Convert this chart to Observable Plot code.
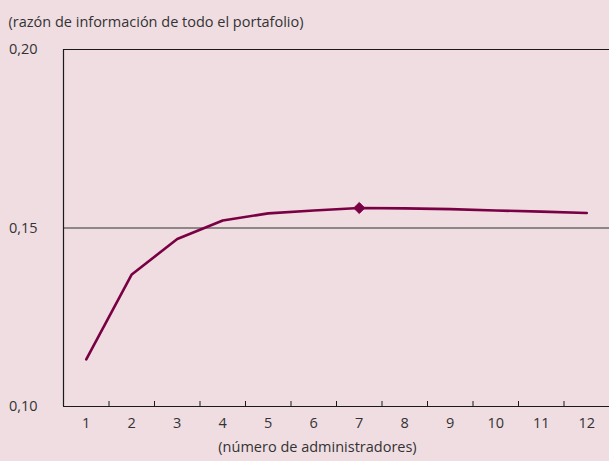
<!DOCTYPE html>
<html>
<head>
<meta charset="utf-8">
<script src="https://cdn.jsdelivr.net/npm/d3@7"></script>
<script src="https://cdn.jsdelivr.net/npm/@observablehq/plot@0.6"></script>
<style>
  html, body { margin: 0; padding: 0; background: #efdde2; }
  #chart svg { display: block; }
</style>
</head>
<body>
<div id="chart"></div>
<script>
const managers = [1, 2, 3, 4, 5, 6, 7, 8, 9, 10, 11, 12];
const infoRatio = [0.1132, 0.1370, 0.1469, 0.1521, 0.1541, 0.1549, 0.1556, 0.1555, 0.1553, 0.1549, 0.1546, 0.1542];
const markedManager = 7;
const yTicks = [0.10, 0.15, 0.20];
const bandBounds = [1.5, 2.5, 3.5, 4.5, 5.5, 6.5, 7.5, 8.5, 9.5, 10.5, 11.5];
const title = "(razón de información de todo el portafolio)";
const xTitle = "(número de administradores)";

const data = managers.map((m, i) => ({m, v: infoRatio[i]}));
const marked = data.filter(d => d.m === markedManager);
const fmt = v => d3.format(".2f")(v).replace(".", ",");

const lineColor = "#7a0044";
const textColor = "#333333";

const plot = Plot.plot({
  width: 609,
  height: 461,
  marginLeft: 63,
  marginRight: 0,
  marginTop: 49,
  marginBottom: 55,
  style: {background: "#efdde2", fontFamily: "'Open Sans', Lato, sans-serif", fontSize: "14.5px", color: textColor},
  x: {domain: [0.5, 12.5]},
  y: {domain: [0.10, 0.20]},
  marks: [
    Plot.ruleY([0.15], {stroke: "#6e6a6c", strokeWidth: 1.3}),
    Plot.ruleY([0.20], {stroke: "#1a1a1a", strokeWidth: 1}),
    Plot.ruleY([0.10], {stroke: "#1a1a1a", strokeWidth: 1.2}),
    Plot.ruleX([0.5], {stroke: "#1a1a1a", strokeWidth: 1.2}),
    Plot.axisY({ticks: yTicks, tickFormat: fmt, tickSize: 0, tickPadding: 26, label: null, fill: textColor}),
    Plot.axisX({ticks: bandBounds, tickSize: -5, tickFormat: () => "", label: null, stroke: "#1a1a1a"}),
    Plot.axisX({ticks: managers, tickSize: 0, tickPadding: 11, tickFormat: d => String(d), label: null, fill: textColor}),
    Plot.line(data, {x: "m", y: "v", stroke: lineColor, strokeWidth: 2.6}),
    Plot.dot(marked, {x: "m", y: "v", symbol: "diamond2", r: 5, fill: lineColor, stroke: lineColor, strokeWidth: 1}),
    Plot.text([title], {frameAnchor: "top-left", dx: -55, dy: -33, textAnchor: "start", fill: textColor}),
    Plot.text([xTitle], {frameAnchor: "bottom", dx: -19, dy: 45, fill: textColor})
  ]
});
document.getElementById("chart").append(plot);
</script>
</body>
</html>
